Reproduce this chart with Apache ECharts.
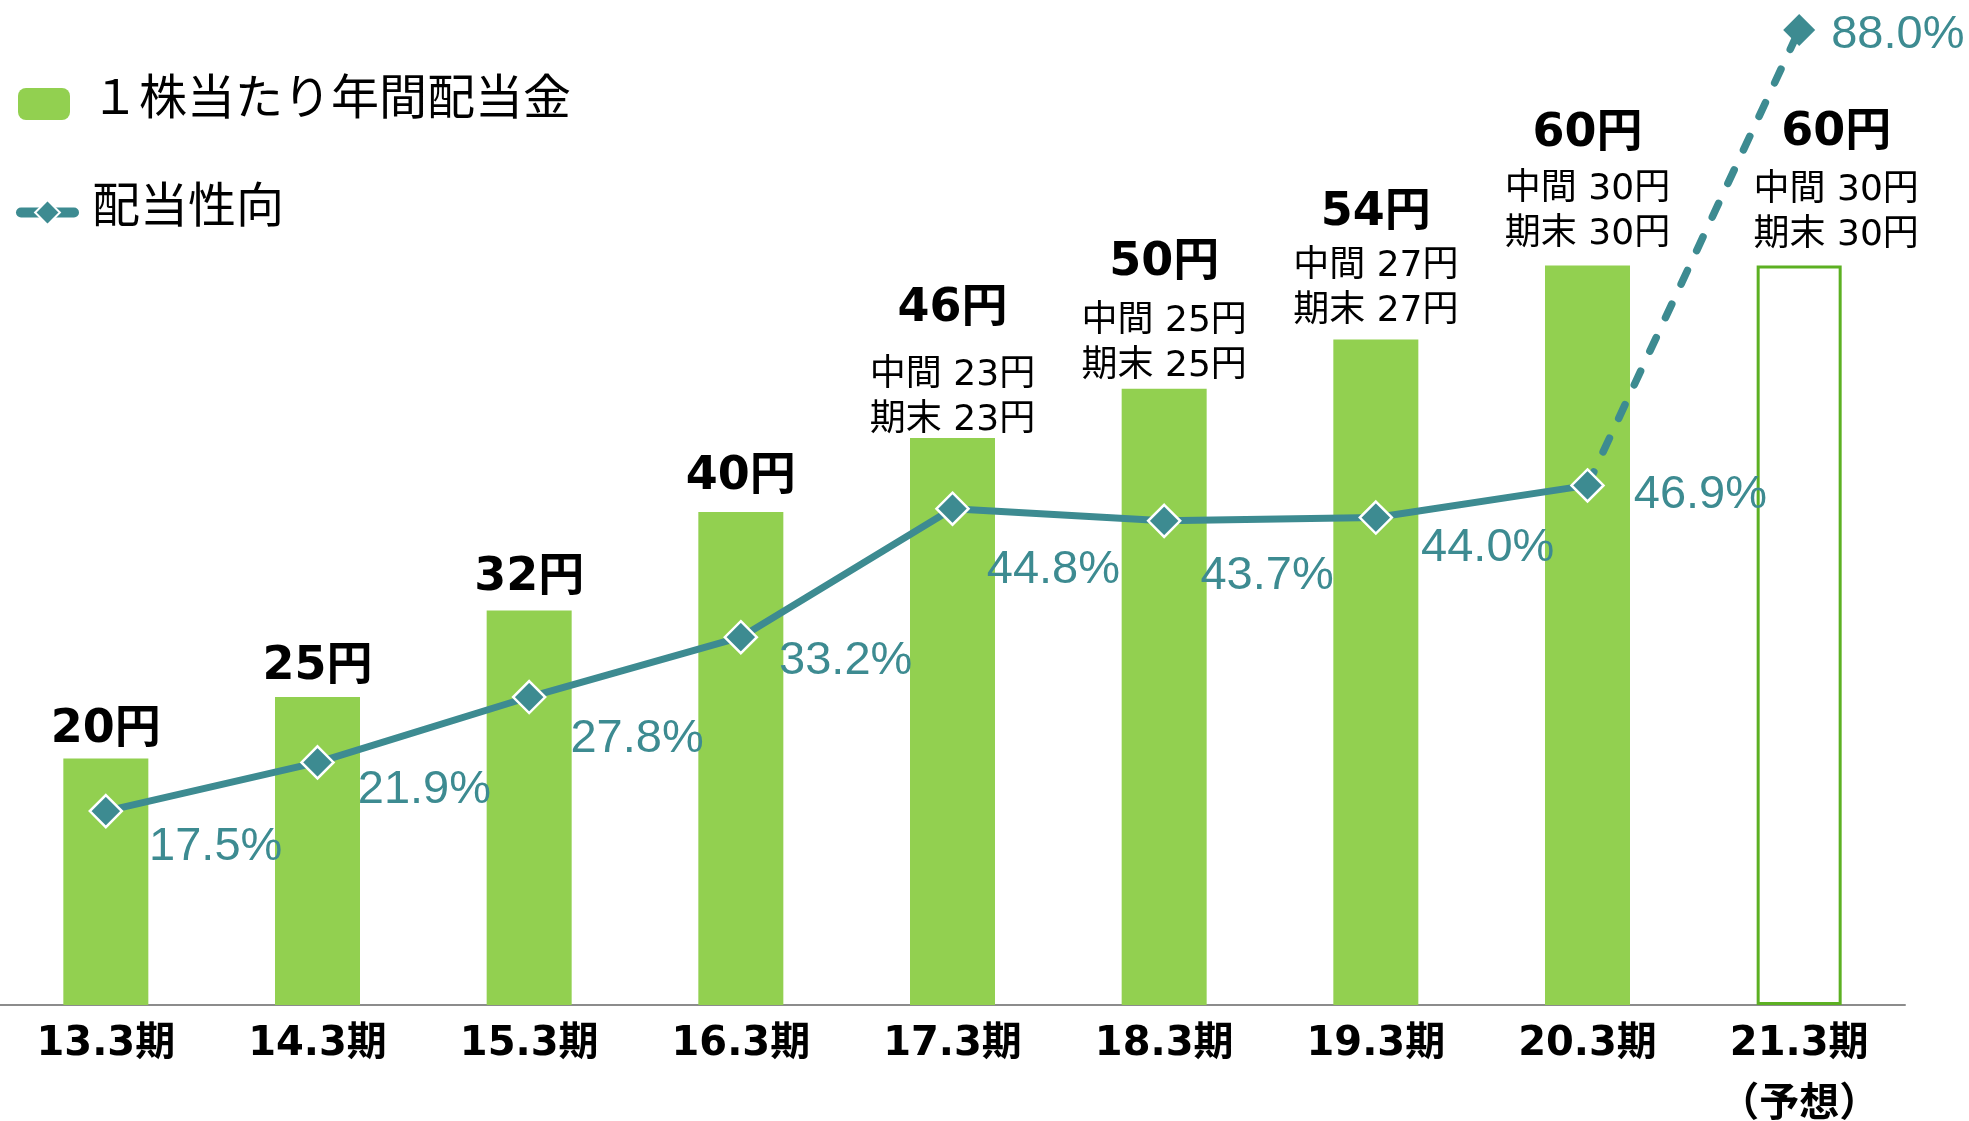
<!DOCTYPE html>
<html>
<head>
<meta charset="utf-8">
<script src="https://cdn.jsdelivr.net/npm/echarts@6/dist/echarts.min.js"></script>
<style>
html, body { margin: 0; padding: 0; background: #fff; }
#chart { width: 1969px; height: 1121px; }
</style>
</head>
<body>
<div id="chart"></div>
<script>
var categories = ['13.3期', '14.3期', '15.3期', '16.3期', '17.3期', '18.3期', '19.3期', '20.3期', '21.3期\n（予想）'];
var dividends = [20, 25, 32, 40, 46, 50, 54, 60, 60];
var interim = [null, null, null, null, 23, 25, 27, 30, 30];
var yearEnd = [null, null, null, null, 23, 25, 27, 30, 30];
var payoutRatio = [17.5, 21.9, 27.8, 33.2, 44.8, 43.7, 44.0, 46.9, 88.0];

// label placement (px)
var gapTop = [28, 30, 33, 35, 67, 59, 53, 55, 57];
var gapSub = [0, 0, 0, 0, 17, 22, 28, 31, 30];
var shiftX = [0, 0, 0, 0, 0, 0, 0, 0, 37];
var pctOffset = [[42, 36], [39, 28], [40, 42], [37, 24], [33, 61], [35, 55], [44, 31], [45, 10], [32, 5]];

var GREEN = '#92D050';
var TEAL = '#3D8B91';
var numFont = '"DejaVu Sans", "Noto Sans CJK JP", sans-serif';

var myChart = echarts.init(document.getElementById('chart'));

var barData = dividends.map(function (v, i) {
    var txt = '{a|' + v + '円}';
    var lh = 50;
    var dist = gapTop[i] - 25;
    if (interim[i] != null) {
        txt += '\n{b|中間 ' + interim[i] + '円}\n{b|期末 ' + yearEnd[i] + '円}';
        dist = gapSub[i] - 22.5;
        lh = 2 * (gapTop[i] - 22.5);
    }
    var item = {
        value: v,
        label: {
            formatter: txt,
            distance: dist,
            offset: [shiftX[i], 0],
            rich: {
                a: { fontSize: 46, fontWeight: 'bold', fontFamily: numFont, color: '#000', lineHeight: lh },
                b: { fontSize: 36, fontFamily: numFont, color: '#000', lineHeight: 45 }
            }
        }
    };
    if (i === dividends.length - 1) {
        item.itemStyle = { color: '#fff', borderColor: '#5CB022', borderWidth: 3 };
    }
    return item;
});

var last = payoutRatio.length - 1;
var solidData = payoutRatio.map(function (v, i) {
    if (i === last) return '-';
    return { value: v, label: { offset: [pctOffset[i][0] - 16, pctOffset[i][1]] } };
});
var dashData = payoutRatio.map(function (v, i) {
    if (i < last - 1) return '-';
    if (i === last - 1) return { value: v, symbol: 'none', label: { show: false } };
    return { value: v, label: { offset: [pctOffset[i][0] - 16, pctOffset[i][1]] } };
});

var pctLabel = {
    show: true,
    position: 'right',
    distance: 0,
    fontSize: 47,
    fontFamily: '"Liberation Sans", Arial, sans-serif',
    color: TEAL,
    formatter: function (p) { return p.value.toFixed(1) + '%'; }
};

function legendText(padLeft, padBottom) {
    return {
        formatter: function (name) { return '{t|' + name + '}'; },
        textStyle: {
            rich: {
                t: { fontSize: 48, fontFamily: 'Noto Sans CJK JP', color: '#000', padding: [0, 0, padBottom, padLeft] }
            }
        }
    };
}

var legend1 = legendText(16, 16);
var legend2 = legendText(13, 17);

var option = {
    animation: false,
    backgroundColor: '#fff',
    legend: [
        {
            data: ['１株当たり年間配当金'],
            left: 18,
            top: 72,
            padding: 0,
            itemWidth: 52,
            itemHeight: 32,
            selectedMode: false,
            formatter: legend1.formatter,
            textStyle: legend1.textStyle
        },
        {
            data: ['配当性向'],
            left: 16,
            top: 180,
            padding: 0,
            itemWidth: 53,
            itemHeight: 31,
            selectedMode: false,
            lineStyle: { width: 10, cap: 'round' },
            formatter: legend2.formatter,
            textStyle: legend2.textStyle
        }
    ],
    grid: { left: 0, right: 64, top: 19, bottom: 116, containLabel: false, outerBoundsMode: 'none' },
    xAxis: {
        type: 'category',
        data: categories,
        axisTick: { show: false },
        axisLine: { lineStyle: { color: '#8C8C8C', width: 2 } },
        axisLabel: {
            interval: 0,
            margin: 9,
            fontSize: 40,
            fontWeight: 'bold',
            fontFamily: numFont,
            color: '#000',
            lineHeight: 61
        }
    },
    yAxis: [
        { type: 'value', min: 0, max: 80, show: false },
        { type: 'value', min: 0, max: 89, show: false }
    ],
    series: [
        {
            name: '１株当たり年間配当金',
            type: 'bar',
            barWidth: 85,
            itemStyle: { color: GREEN },
            label: { show: true, position: 'top' },
            data: barData
        },
        {
            name: '配当性向',
            type: 'line',
            yAxisIndex: 1,
            z: 4,
            symbol: 'diamond',
            symbolSize: 32,
            lineStyle: { color: TEAL, width: 7 },
            itemStyle: { color: TEAL, borderColor: '#fff', borderWidth: 2.5 },
            label: pctLabel,
            data: solidData
        },
        {
            name: '配当性向（予想）',
            type: 'line',
            yAxisIndex: 1,
            z: 3,
            symbol: 'diamond',
            symbolSize: 32,
            lineStyle: { color: TEAL, width: 7.5, type: [15, 22], cap: 'round' },
            itemStyle: { color: TEAL, borderWidth: 0 },
            label: pctLabel,
            data: dashData
        }
    ]
};

myChart.setOption(option);
</script>
</body>
</html>
